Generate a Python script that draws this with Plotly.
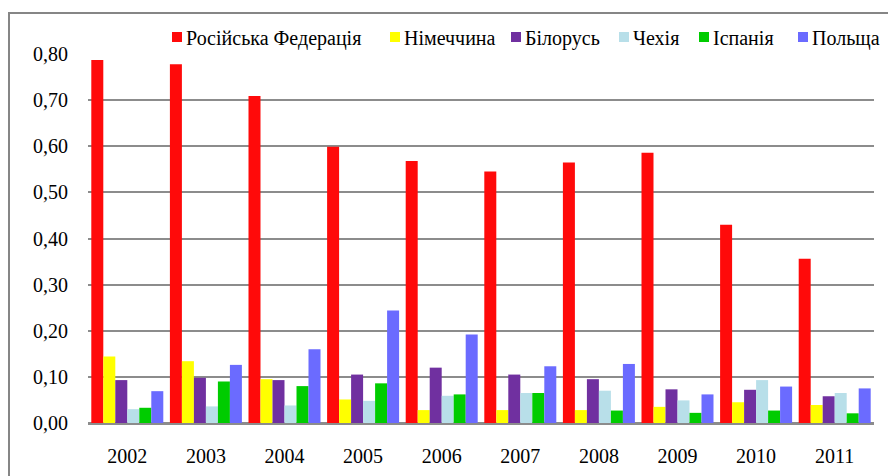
import plotly.graph_objects as go

years = ["2002", "2003", "2004", "2005", "2006", "2007", "2008", "2009", "2010", "2011"]
series_names = ["Російська Федерація", "Німеччина", "Білорусь", "Чехія", "Іспанія", "Польща"]
russia = [0.787, 0.778, 0.709, 0.599, 0.568, 0.545, 0.565, 0.586, 0.430, 0.356]
germany = [0.144, 0.134, 0.095, 0.051, 0.028, 0.028, 0.028, 0.035, 0.045, 0.039]
belarus = [0.093, 0.098, 0.093, 0.105, 0.120, 0.105, 0.095, 0.073, 0.072, 0.058]
czechia = [0.030, 0.036, 0.038, 0.048, 0.059, 0.065, 0.070, 0.049, 0.093, 0.065]
spain = [0.033, 0.090, 0.080, 0.086, 0.062, 0.065, 0.027, 0.022, 0.027, 0.021]
poland = [0.069, 0.126, 0.160, 0.244, 0.192, 0.123, 0.128, 0.062, 0.079, 0.075]
colors = ["#FF0A0A", "#FFFF00", "#7030A0", "#B8DFE9", "#00CC00", "#6B6BFF"]
y_ticks = [0.0, 0.1, 0.2, 0.3, 0.4, 0.5, 0.6, 0.7, 0.8]

FONT = "Liberation Serif, Times New Roman, serif"
all_series = [russia, germany, belarus, czechia, spain, poland]

fig = go.Figure()
for name, vals, col in zip(series_names, all_series, colors):
    fig.add_trace(go.Bar(x=years, y=vals, name=name, marker=dict(color=col, line=dict(width=0)),
                         showlegend=False))

L, R, T, B = 88, 14, 54, 53
W, H = 888, 476
pw, ph = W - L - R, H - T - B

def px_x(p):
    return (p - L) / pw

def px_y(p):
    return (H - B - p) / ph

# legend layout (pixel positions of the swatches)
legend_left = [172, 390, 511, 619, 699, 798]
legend_y = 37
shapes = [
    dict(type="rect", xref="paper", yref="paper",
         x0=px_x(9), x1=px_x(900), y0=px_y(13), y1=px_y(500),
         line=dict(color="#868686", width=2), fillcolor="rgba(0,0,0,0)", layer="below"),
]
annotations = []
for name, col, lx in zip(series_names, colors, legend_left):
    shapes.append(dict(type="rect", xref="paper", yref="paper",
                       x0=px_x(lx), x1=px_x(lx + 10), y0=px_y(legend_y + 5), y1=px_y(legend_y - 5),
                       line=dict(width=0), fillcolor=col))
    annotations.append(dict(xref="paper", yref="paper", x=px_x(lx + 12), y=px_y(legend_y + 1),
                            xanchor="left", yanchor="middle", text=name, showarrow=False,
                            font=dict(family=FONT, size=20, color="#000000")))

fig.update_layout(
    width=W, height=H,
    margin=dict(l=L, r=R, t=T, b=B, autoexpand=False),
    paper_bgcolor="white", plot_bgcolor="white",
    barmode="group", bargap=0.084, bargroupgap=0,
    separators=", ",
    font=dict(family=FONT, size=20, color="#000000"),
    showlegend=False,
    xaxis=dict(type="category", showgrid=False, showline=False, ticks="", automargin=False,
               tickfont=dict(family=FONT, size=20), ticklabelstandoff=19),
    yaxis=dict(range=[0, 0.8], tickvals=y_ticks, tickformat=".2f", automargin=False,
               showgrid=True, gridcolor="#8C8C8C", gridwidth=2,
               zeroline=True, zerolinecolor="#8C8C8C", zerolinewidth=3,
               showline=False, ticks="", ticklabelstandoff=19,
               tickfont=dict(family=FONT, size=20)),
    shapes=shapes,
    annotations=annotations,
)

fig.write_html("out.html", config={"displayModeBar": False},
               post_script="document.body.style.margin='0px';")
